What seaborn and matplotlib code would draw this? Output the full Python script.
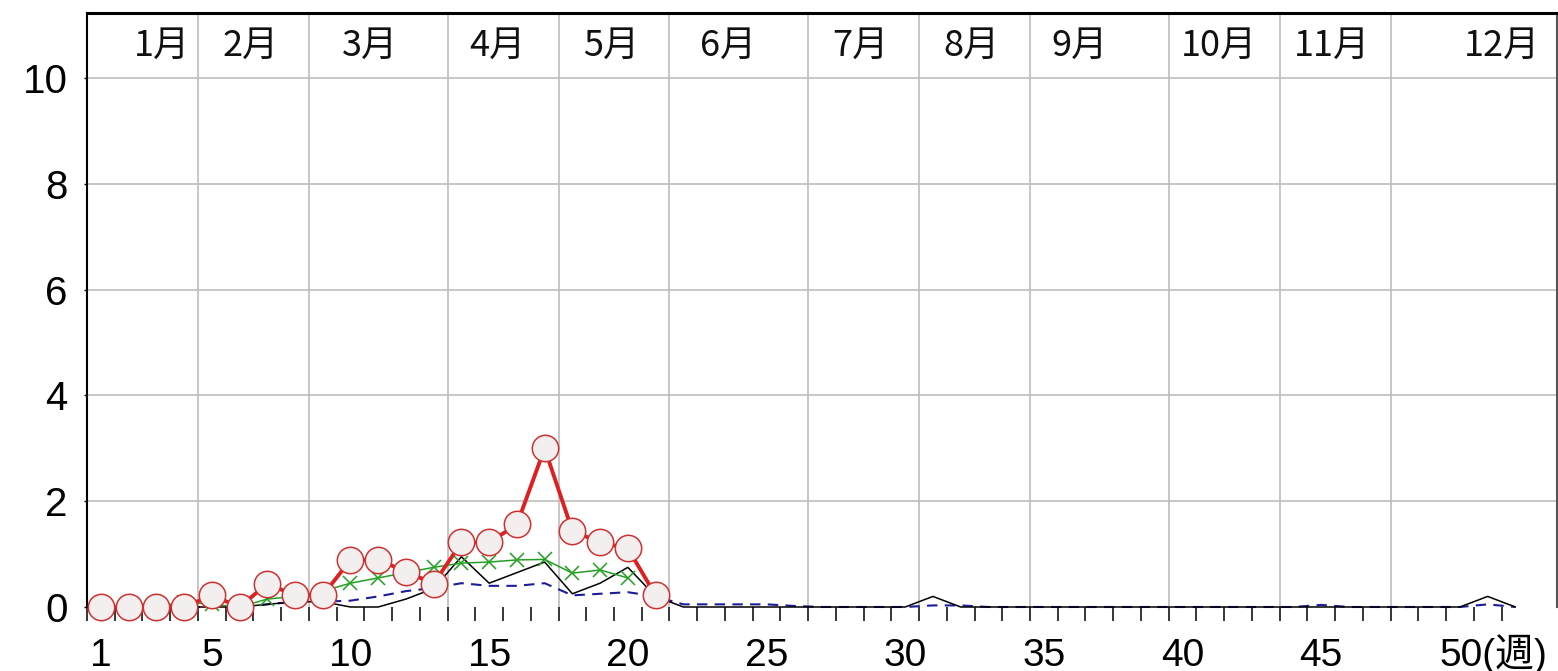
import matplotlib
matplotlib.use("Agg")
import matplotlib.pyplot as plt
import matplotlib.transforms as mtransforms
import seaborn as sns

# ---- data -------------------------------------------------------------
weeks = list(range(1, 53))

# this season (per-sentinel reports), weeks 1-21
current_weeks = list(range(1, 22))
current = [0, 0, 0, 0, 0.22, 0, 0.44, 0.22, 0.22, 0.89, 0.89, 0.67, 0.44,
           1.22, 1.22, 1.56, 3.00, 1.44, 1.22, 1.11, 0.22]

# comparison season, weeks 1-20
green_weeks = list(range(1, 21))
green = [0, 0, 0, 0.1, 0.05, 0, 0.15, 0.2, 0.3, 0.45, 0.55, 0.65, 0.75,
         0.83, 0.85, 0.89, 0.9, 0.64, 0.7, 0.55]

# previous year, weeks 1-52
black = [0, 0, 0, 0, 0, 0, 0.05, 0.1, 0.1, 0, 0, 0.15, 0.35,
         0.95, 0.45, 0.65, 0.85, 0.25, 0.45, 0.75, 0.2, 0,
         0, 0, 0, 0, 0, 0, 0, 0, 0.2, 0, 0, 0, 0, 0,
         0, 0, 0, 0, 0, 0, 0, 0, 0, 0, 0, 0, 0, 0, 0.2, 0]

# multi-year average, weeks 1-52
blue = [0, 0, 0, 0, 0, 0, 0.05, 0.1, 0.1, 0.12, 0.2, 0.3, 0.36,
        0.45, 0.4, 0.4, 0.45, 0.22, 0.25, 0.28, 0.2, 0.05,
        0.05, 0.05, 0.05, 0.02, 0, 0, 0, 0, 0.03, 0.03, 0, 0, 0, 0,
        0, 0, 0, 0, 0, 0, 0, 0, 0.04, 0, 0, 0, 0, 0, 0.05, 0]

month_names = ["1月", "2月", "3月", "4月", "5月", "6月",
               "7月", "8月", "9月", "10月", "11月", "12月"]
week_tick_values = [1, 5, 10, 15, 20, 25, 30, 35, 40, 45, 50]
week_tick_labels = ["1", "5", "10", "15", "20", "25", "30", "35", "40",
                    "45", "50(週)"]
y_tick_values = [0, 2, 4, 6, 8, 10]

# ---- layout -----------------------------------------------------------
month_label_x = [3.2, 6.4, 10.7, 15.3, 19.4, 23.6, 28.4, 32.4, 36.3,
                 41.3, 45.4, 51.5]
month_bounds = [4.5, 8.5, 13.5, 17.5, 21.5, 26.5, 30.5, 34.5, 39.5,
                43.5, 47.5]
week_bounds = [w + 0.5 for w in range(0, 53)]

sns.set_style("white")
plt.rcParams["font.family"] = ["Liberation Sans Narrow", "DejaVu Sans Condensed",
                               "Liberation Sans", "Noto Sans CJK JP",
                               "DejaVu Sans"]

W, H = 1558, 671
fig = plt.figure(figsize=(W / 100, H / 100), dpi=100)
ax = fig.add_axes([87 / W, 64 / H, 1470 / W, 594 / H])

ax.set_xlim(0.5, 53.5)
ax.set_ylim(0, 11.23)

# grid: horizontal at value ticks, vertical at month boundaries
for yv in y_tick_values[1:]:
    ax.axhline(yv, color="#bdbdbd", lw=1.2, zorder=0)
for xb in month_bounds:
    ax.axvline(xb, color="#bdbdbd", lw=1.2, zorder=0)

# series
sns.lineplot(x=weeks, y=blue, ax=ax, color="#1c1c9a", lw=1.5,
             linestyle=(0, (5, 3.5)), clip_on=False, zorder=3)
sns.lineplot(x=weeks, y=black, ax=ax, color="black", lw=1.1,
             clip_on=False, zorder=4)
sns.lineplot(x=green_weeks, y=green, ax=ax, color="#22a022", lw=1.1,
             marker="x", markersize=10, markeredgewidth=1.1,
             markeredgecolor="#22a022", clip_on=False, zorder=5)
sns.lineplot(x=current_weeks, y=current, ax=ax, color="#dd2020", lw=2.8,
             marker="o", markersize=19, markerfacecolor="#f3efef",
             markeredgecolor="#d03030", markeredgewidth=1.1,
             clip_on=False, zorder=6)

# month captions along the top
for name, xm in zip(month_names, month_label_x):
    ax.text(xm, 10.6, name, ha="center", va="center", fontsize=26,
            family=["Noto Sans CJK JP", "DejaVu Sans"], color="#111111")

# axes frame
ax.spines["bottom"].set_visible(False)
ax.spines["top"].set_color("black")
ax.spines["top"].set_linewidth(2.2)
ax.spines["left"].set_color("black")
ax.spines["left"].set_linewidth(1.5)
ax.spines["right"].set_color("#555555")
ax.spines["right"].set_linewidth(1.5)

ax.set_yticks(y_tick_values)
ax.set_yticklabels([str(v) for v in y_tick_values])
ax.set_xticks(week_tick_values)
ax.set_xticks(week_bounds[:-1], minor=True)
ax.set_xticklabels(week_tick_labels)
ax.tick_params(axis="y", which="major", length=2, width=1, pad=12,
               labelsize=29, colors="black", left=True)
ax.tick_params(axis="x", which="major", length=0, pad=42.5, labelsize=28,
               colors="black", bottom=True)
ax.tick_params(axis="x", which="minor", length=10, width=1.1,
               direction="out", colors="black", bottom=True)
ax.set_xlabel("")
ax.set_ylabel("")

# week numbers share a common baseline
for lbl in ax.get_xticklabels():
    lbl.set_verticalalignment("baseline")

# the last week label carries the unit and starts at the week-50 position
last = ax.get_xticklabels()[-1]
last.set_horizontalalignment("left")
last.set_transform(last.get_transform() +
                   mtransforms.ScaledTranslation(-0.2, 0, fig.dpi_scale_trans))

fig.savefig("out.png", dpi=100)
